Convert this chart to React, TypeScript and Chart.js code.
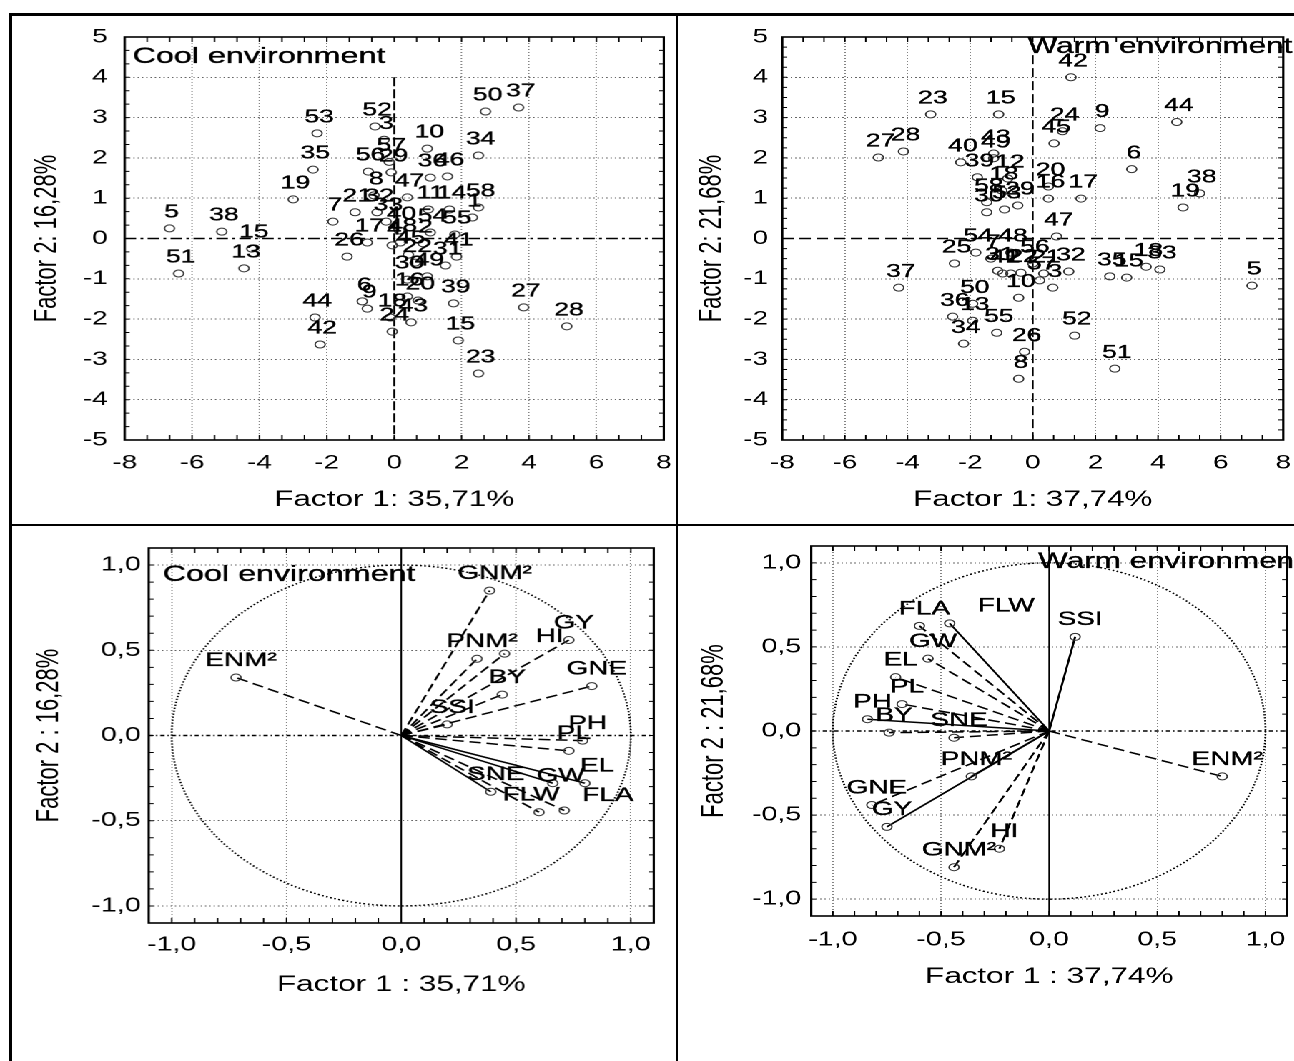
import React, { useEffect, useRef } from 'react';
import { Chart, registerables } from 'chart.js';
Chart.register(...registerables);

// The reference picture is horizontally stretched; everything is drawn in an
// unstretched space and the whole page is scaled along x by S.
const S = 1.43;
const FONT = "'Liberation Sans', Arial, Helvetica, sans-serif";

// ---------- Cool environment: case scores ----------
const coolIds = ['5','38','15','13','51','53','35','19','52','3',
  '56','57','29','10','36','46','50','37','34','8',
  '47','21','32','33','11','14','58','1','7','17',
  '4','48','2','54','55','45','22','31','41','26',
  '30','49','16','20','39','6','9','18','24','43',
  '44','42','27','28','15','23','40'];
const coolF1 = [-6.67,-5.12,-4.23,-4.46,-6.40,-2.29,-2.41,-3.00,-0.57,-0.30,
  -0.77,-0.15,-0.09,0.98,1.07,1.58,2.71,3.69,2.50,-0.60,
  0.39,-1.16,-0.51,-0.24,1.01,1.64,2.50,2.32,-1.82,-0.80,
  -0.06,0.18,0.86,1.07,1.80,0.42,0.62,1.52,1.85,-1.40,
  0.39,0.98,0.39,0.71,1.76,-0.95,-0.80,-0.12,-0.06,0.50,
  -2.35,-2.20,3.84,5.12,1.90,2.50,0.15];
const coolF2 = [0.25,0.17,-0.25,-0.74,-0.87,2.61,1.71,0.97,2.78,2.45,
  1.66,1.90,1.64,2.23,1.51,1.54,3.15,3.25,2.06,1.07,
  1.02,0.65,0.65,0.42,0.72,0.72,0.77,0.52,0.42,-0.10,
  -0.17,-0.10,-0.12,0.15,0.10,-0.40,-0.60,-0.67,-0.45,-0.45,
  -1.02,-0.94,-1.44,-1.54,-1.61,-1.56,-1.74,-1.96,-2.31,-2.08,
  -1.96,-2.63,-1.71,-2.18,-2.53,-3.35,0.20];

// ---------- Warm environment: case scores ----------
const warmIds = ['42','23','15','27','28','40','43','49','39','12',
  '18','58','30','53','29','24','45','9','44','6',
  '38','19','20','16','17','47','25','54','7','48',
  '56','31','41','2','22','21','57','3','32','35',
  '15','18','33','5','37','50','36','13','10','55',
  '34','26','8','52','51',''];
const warmF1 = [1.22,-3.26,-1.09,-4.93,-4.13,-2.30,-1.25,-1.25,-1.77,-0.80,
  -0.99,-1.47,-1.47,-0.90,-0.48,0.95,0.68,2.15,4.60,3.16,
  5.33,4.80,0.50,0.50,1.54,0.76,-2.50,-1.82,-1.34,-0.70,
  0.00,-1.12,-0.96,-0.70,-0.38,0.35,0.22,0.64,1.15,2.46,
  3.00,3.62,4.06,7.00,-4.28,-1.92,-2.56,-1.92,-0.45,-1.15,
  -2.21,-0.26,-0.45,1.34,2.62,0.06];
const warmF2 = [4.00,3.08,3.08,2.01,2.16,1.89,2.11,1.99,1.52,1.49,
  1.19,0.90,0.65,0.72,0.82,2.66,2.36,2.74,2.89,1.72,
  1.12,0.77,1.29,0.99,0.99,0.05,-0.62,-0.35,-0.50,-0.35,
  -0.62,-0.80,-0.87,-0.87,-0.85,-0.87,-1.04,-1.22,-0.82,-0.94,
  -0.97,-0.70,-0.77,-1.17,-1.22,-1.62,-1.94,-2.04,-1.47,-2.34,
  -2.61,-2.81,-3.48,-2.41,-3.23,-2.46];

// ---------- Variable loadings ----------
const coolVars = ['ENM²','GNM²','PNM²','HI','GY','GNE','BY','SSI','PH','PL','SNE','GW','EL','FLW','FLA'];
const coolVarF1 = [-0.72,0.385,0.33,0.45,0.73,0.83,0.44,0.20,0.79,0.73,0.39,0.66,0.80,0.60,0.71];
const coolVarF2 = [0.34,0.85,0.45,0.48,0.56,0.29,0.24,0.065,-0.03,-0.09,-0.33,-0.28,-0.28,-0.45,-0.44];
const coolSolid = ['SNE','GW','EL'];

const warmVars = ['FLA','FLW','SSI','GW','EL','PL','PH','BY','SNE','PNM²','GNE','GY','HI','GNM²','ENM²'];
const warmVarF1 = [-0.60,-0.46,0.12,-0.56,-0.71,-0.68,-0.84,-0.74,-0.44,-0.36,-0.82,-0.75,-0.23,-0.44,0.80];
const warmVarF2 = [0.625,0.64,0.56,0.43,0.32,0.16,0.07,-0.01,-0.04,-0.27,-0.44,-0.57,-0.70,-0.81,-0.27];
const warmSolid = ['FLW','SSI','PH','PNM²','GY'];

// label nudges (unstretched px) for labels moved away from their points
const coolNudge: Record<string, [number, number]> = { HI: [28, 0], FLA: [27, 2], FLW: [-9, 0], GW: [2, 10], EL: [5, 0] };
const warmNudge: Record<string, [number, number]> = { FLW: [36, 0] };

// ---------- geometry (page px) ----------
type Geo = {
  cx: number; cy: number; cw: number; ch: number;
  left: number; right: number; top: number; bottom: number;
  yTitleX: number; xTitleY: number; xTickY: number; yTickRight: number;
  tickFont: number; titleFont: number;
};
const GEO_TL: Geo = { cx: 12, cy: 16, cw: 664, ch: 508, left: 125, right: 663, top: 37, bottom: 440,
  yTitleX: 48, xTitleY: 500, xTickY: 463, yTickRight: 108, tickFont: 19.5, titleFont: 22 };
const GEO_TR: Geo = { cx: 679, cy: 16, cw: 615, ch: 508, left: 782, right: 1283, top: 37, bottom: 440,
  yTitleX: 712, xTitleY: 500, xTickY: 463, yTickRight: 768, tickFont: 19.5, titleFont: 22 };
const GEO_BL: Geo = { cx: 12, cy: 527, cw: 664, ch: 534, left: 149, right: 653, top: 548, bottom: 923,
  yTitleX: 50, xTitleY: 985, xTickY: 945, yTickRight: 141, tickFont: 20, titleFont: 22 };
const GEO_BR: Geo = { cx: 679, cy: 527, cw: 615, ch: 534, left: 811, right: 1291, top: 546, bottom: 916,
  yTitleX: 714, xTitleY: 977, xTickY: 940, yTickRight: 801, tickFont: 20, titleFont: 22 };

function lay(g: Geo) {
  const cl = g.cx / S, cw = g.cw / S;
  const plotL = g.left / S - cl, plotR = g.right / S - cl;
  const tOff = (g.titleFont * 1.2) / 2;
  const padL = g.yTitleX / S - cl - tOff;
  const yW = plotL - padL;
  const padR = cw - plotR;
  const padT = g.top - g.cy;
  const plotB = g.bottom - g.cy;
  const axisB = g.xTitleY - g.cy + tOff;
  const padB = g.ch - axisB;
  const xH = axisB - plotB;
  const xTickPad = g.xTickY - g.cy - plotB - (g.tickFont * 1.2) / 2;
  const yTickPad = (g.left - g.yTickRight) / S;
  return { padL, padR, padT, padB, yW, xH, xTickPad, yTickPad };
}

type Ax = { xMin: number; xMax: number; xStep: number; yMin: number; yMax: number; yStep: number;
  xTitle: string; yTitle: string; fmt: (v: number) => string };

function scales(g: Geo, ax: Ax) {
  const L = lay(g);
  const tickFont = { family: FONT, size: g.tickFont };
  const titleFont = { family: FONT, size: g.titleFont };
  const gridColor = (c: any) => (c.tick && Math.abs(c.tick.value) < 1e-9 ? 'rgba(0,0,0,0)' : '#666');
  const zeroPad = (s: any) => { s.paddingLeft = 0; s.paddingRight = 0; s.paddingTop = 0; s.paddingBottom = 0; };
  return {
    layout: { padding: { left: L.padL, right: L.padR, top: L.padT, bottom: L.padB } },
    scales: {
      x: {
        type: 'linear', position: 'bottom', min: ax.xMin, max: ax.xMax,
        ticks: { stepSize: ax.xStep, includeBounds: false, autoSkip: false, maxRotation: 0, minRotation: 0,
          padding: L.xTickPad, color: '#000', font: tickFont, callback: (v: any) => ax.fmt(Number(v)) },
        grid: { color: gridColor, lineWidth: 0.8, drawTicks: false },
        border: { display: false, dash: [1, 2] },
        title: { display: true, text: ax.xTitle, color: '#000', font: titleFont, padding: 0 },
        afterFit: (s: any) => { s.height = L.xH; zeroPad(s); },
      },
      y: {
        type: 'linear', position: 'left', min: ax.yMin, max: ax.yMax,
        ticks: { stepSize: ax.yStep, includeBounds: false, autoSkip: false,
          padding: L.yTickPad, color: '#000', font: tickFont, callback: (v: any) => ax.fmt(Number(v)) },
        grid: { color: gridColor, lineWidth: 1, drawTicks: false },
        border: { display: false, dash: [1, 2] },
        title: { display: true, text: ax.yTitle, color: '#000', font: titleFont, padding: 0 },
        afterFit: (s: any) => { s.width = L.yW; zeroPad(s); },
      },
    },
  };
}

type Decor = {
  zeroX: { dash: number[]; width: number; from?: number };
  zeroY: { dash: number[]; width: number };
  circle?: boolean;
  minorX: number; minorY: number;
  title: { text: string; mode: 'left' | 'zero'; dx: number; dy: number; size: number };
  labels: { mode: 'points' | 'vectors'; texts: string[]; size: number; dx: number; dy: number; nudges?: Record<string, [number, number]> };
};

function drawText(ctx: any, t: string, x: number, y: number) {
  ctx.fillText(t, x, y);
  ctx.strokeText(t, x, y);
}

function decorPlugin(d: Decor) {
  return {
    id: 'decor',
    beforeDatasetsDraw(chart: any) {
      const { ctx, chartArea: a } = chart;
      const xs = chart.scales.x, ys = chart.scales.y;
      ctx.save();
      ctx.beginPath(); ctx.rect(a.left, a.top, a.right - a.left, a.bottom - a.top); ctx.clip();
      if (d.circle) {
        const cx = xs.getPixelForValue(0), cy = ys.getPixelForValue(0);
        const rx = xs.getPixelForValue(1) - cx, ry = cy - ys.getPixelForValue(1);
        ctx.setLineDash([1.3, 1.7]); ctx.lineWidth = 1.4; ctx.strokeStyle = '#000';
        ctx.beginPath(); ctx.ellipse(cx, cy, rx, ry, 0, 0, Math.PI * 2); ctx.stroke();
      }
      ctx.strokeStyle = '#000';
      const py = ys.getPixelForValue(0);
      ctx.setLineDash(d.zeroY.dash); ctx.lineWidth = d.zeroY.width;
      ctx.beginPath(); ctx.moveTo(a.left, py); ctx.lineTo(a.right, py); ctx.stroke();
      const px = xs.getPixelForValue(0);
      const y1 = d.zeroX.from !== undefined ? ys.getPixelForValue(d.zeroX.from) : a.top;
      ctx.setLineDash(d.zeroX.dash); ctx.lineWidth = d.zeroX.width;
      ctx.beginPath(); ctx.moveTo(px, y1); ctx.lineTo(px, a.bottom); ctx.stroke();
      ctx.restore();
    },
    afterDatasetsDraw(chart: any) {
      const { ctx, chartArea: a } = chart;
      const xs = chart.scales.x, ys = chart.scales.y;
      ctx.save();
      ctx.setLineDash([]);
      ctx.strokeStyle = '#000';
      // inner minor ticks on all four sides
      ctx.lineWidth = 1;
      const nx = Math.round((xs.max - xs.min) / d.minorX);
      for (let i = 1; i < nx; i++) {
        const p = xs.getPixelForValue(xs.min + i * d.minorX);
        ctx.beginPath(); ctx.moveTo(p, a.bottom); ctx.lineTo(p, a.bottom - 5);
        ctx.moveTo(p, a.top); ctx.lineTo(p, a.top + 5); ctx.stroke();
      }
      const ny = Math.round((ys.max - ys.min) / d.minorY);
      for (let i = 1; i < ny; i++) {
        const p = ys.getPixelForValue(ys.min + i * d.minorY);
        ctx.beginPath(); ctx.moveTo(a.left, p); ctx.lineTo(a.left + 5 / S, p);
        ctx.moveTo(a.right, p); ctx.lineTo(a.right - 5 / S, p); ctx.stroke();
      }
      // plot frame
      ctx.lineWidth = 1.6;
      ctx.strokeRect(a.left, a.top, a.right - a.left, a.bottom - a.top);
      // labels
      ctx.fillStyle = '#000';
      ctx.lineWidth = 0.35;
      ctx.font = `${d.labels.size}px ${FONT}`;
      ctx.textAlign = 'center';
      ctx.textBaseline = 'middle';
      const lb = d.labels;
      if (lb.mode === 'points') {
        chart.getDatasetMeta(0).data.forEach((el: any, i: number) => {
          const t = lb.texts[i];
          if (t) drawText(ctx, t, el.x + lb.dx, el.y + lb.dy);
        });
      } else {
        lb.texts.forEach((t, i) => {
          const el = chart.getDatasetMeta(i).data[1];
          const n = (lb.nudges && lb.nudges[t]) || [0, 0];
          drawText(ctx, t, el.x + lb.dx + n[0], el.y + lb.dy + n[1]);
        });
      }
      // panel caption
      ctx.font = `${d.title.size}px ${FONT}`;
      ctx.textAlign = 'left';
      const tx = d.title.mode === 'left' ? a.left + d.title.dx : xs.getPixelForValue(0) + d.title.dx;
      drawText(ctx, d.title.text, tx, a.top + d.title.dy);
      ctx.restore();
    },
  };
}

const intFmt = (v: number) => String(Math.round(v));
const decFmt = (v: number) => (Math.abs(v) < 1e-9 ? '0,0' : v.toFixed(1).replace('.', ','));

const pointStyle = { pointRadius: 3.5, pointBorderColor: '#333', pointBackgroundColor: 'rgba(0,0,0,0)', pointBorderWidth: 1 };

function scatterConfig(g: Geo, ids: string[], f1: number[], f2: number[], xTitle: string, yTitle: string, decor: Omit<Decor, 'labels'>) {
  const sc = scales(g, { xMin: -8, xMax: 8, xStep: 2, yMin: -5, yMax: 5, yStep: 1, xTitle, yTitle, fmt: intFmt });
  return {
    type: 'scatter',
    data: { datasets: [{ data: ids.map((_, i) => ({ x: f1[i], y: f2[i] })), ...pointStyle, showLine: false, clip: false }] },
    options: {
      animation: false, responsive: true, maintainAspectRatio: false, devicePixelRatio: 2, events: [],
      layout: sc.layout, scales: sc.scales,
      plugins: { legend: { display: false }, tooltip: { enabled: false }, title: { display: false } },
    },
    plugins: [decorPlugin({ ...decor, labels: { mode: 'points', texts: ids, size: 18.5, dx: 1.5, dy: -16 } })],
  };
}

function biplotConfig(g: Geo, vars: string[], f1: number[], f2: number[], solid: string[], nudges: Record<string, [number, number]>, xTitle: string, yTitle: string, decor: Omit<Decor, 'labels'>) {
  const sc = scales(g, { xMin: -1.1, xMax: 1.1, xStep: 0.5, yMin: -1.1, yMax: 1.1, yStep: 0.5, xTitle, yTitle, fmt: decFmt });
  return {
    type: 'scatter',
    data: {
      datasets: vars.map((name, i) => ({
        data: [{ x: 0, y: 0 }, { x: f1[i], y: f2[i] }],
        showLine: true, borderColor: '#000', borderWidth: 1.5,
        borderDash: solid.includes(name) ? [] : [8, 4],
        ...pointStyle, pointRadius: [0, 3.5], clip: false,
      })),
    },
    options: {
      animation: false, responsive: true, maintainAspectRatio: false, devicePixelRatio: 2, events: [],
      layout: sc.layout, scales: sc.scales,
      plugins: { legend: { display: false }, tooltip: { enabled: false }, title: { display: false } },
    },
    plugins: [decorPlugin({ ...decor, labels: { mode: 'vectors', texts: vars, size: 19.5, dx: 3.5, dy: -17, nudges } })],
  };
}

function Panel({ geo, make }: { geo: Geo; make: () => any }) {
  const ref = useRef<HTMLCanvasElement>(null);
  useEffect(() => {
    if (!ref.current) return;
    const chart = new Chart(ref.current, make());
    return () => chart.destroy();
  }, []);
  return (
    <div style={{ position: 'absolute', left: geo.cx / S, top: geo.cy, width: geo.cw / S, height: geo.ch }}>
      <canvas ref={ref} style={{ display: 'block' }} />
    </div>
  );
}

const line = (l: number, t: number, w: number, h: number) => (
  <div style={{ position: 'absolute', left: l, top: t, width: w, height: h, background: '#000' }} />
);

export default function App() {
  return (
    <div style={{ position: 'absolute', left: 0, top: 0, width: 1294, height: 1061, overflow: 'hidden', background: '#fff' }}>
      <div style={{ position: 'absolute', left: 0, top: 0, width: 1294 / S, height: 1061, transform: `scaleX(${S})`, transformOrigin: '0 0' }}>
        <Panel geo={GEO_TL} make={() => scatterConfig(GEO_TL, coolIds, coolF1, coolF2, 'Factor 1: 35,71%', 'Factor 2: 16,28%', {
          zeroX: { dash: [9, 3], width: 1.2, from: 4 }, zeroY: { dash: [8, 3, 2, 3], width: 1.6 },
          minorX: 2 / 3, minorY: 1 / 3,
          title: { text: 'Cool environment', mode: 'left', dx: 8 / S, dy: 20, size: 22.5 },
        })} />
        <Panel geo={GEO_TR} make={() => scatterConfig(GEO_TR, warmIds, warmF1, warmF2, 'Factor 1: 37,74%', 'Factor 2: 21,68%', {
          zeroX: { dash: [9, 4], width: 1.2, from: 4.55 }, zeroY: { dash: [8, 4], width: 1.6 },
          minorX: 2 / 3, minorY: 0.25,
          title: { text: 'Warm environment', mode: 'zero', dx: -5 / S, dy: 10, size: 22 },
        })} />
        <Panel geo={GEO_BL} make={() => biplotConfig(GEO_BL, coolVars, coolVarF1, coolVarF2, coolSolid, coolNudge, 'Factor 1 : 35,71%', 'Factor 2 : 16,28%', {
          zeroX: { dash: [], width: 1.1 }, zeroY: { dash: [3, 2, 1, 2], width: 1.4 }, circle: true,
          minorX: 0.1, minorY: 0.1,
          title: { text: 'Cool environment', mode: 'left', dx: 14 / S, dy: 27, size: 22.5 },
        })} />
        <Panel geo={GEO_BR} make={() => biplotConfig(GEO_BR, warmVars, warmVarF1, warmVarF2, warmSolid, warmNudge, 'Factor 1 : 37,74%', 'Factor 2 : 21,68%', {
          zeroX: { dash: [], width: 1.1 }, zeroY: { dash: [3, 2, 1, 2], width: 1.4 }, circle: true,
          minorX: 0.1, minorY: 0.1,
          title: { text: 'Warm environment', mode: 'zero', dx: -11 / S, dy: 16, size: 22 },
        })} />
      </div>
      {line(9, 13, 1285, 3)}
      {line(9, 13, 3, 1048)}
      {line(676, 13, 2, 1048)}
      {line(9, 524, 1285, 2)}
    </div>
  );
}
